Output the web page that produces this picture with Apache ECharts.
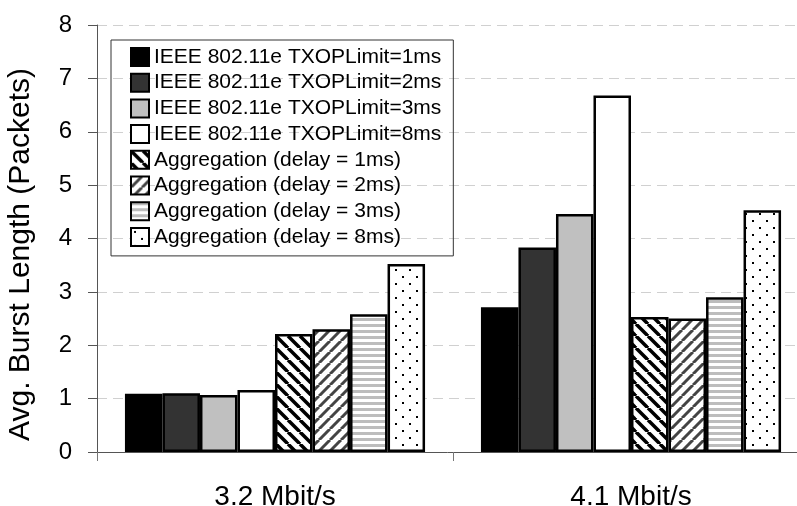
<!DOCTYPE html>
<html><head><meta charset="utf-8">
<script src="https://cdn.jsdelivr.net/npm/echarts@6/dist/echarts.min.js"></script>
<style>html,body{margin:0;padding:0;background:#fff}#c{width:797px;height:506px}</style>
</head><body><div id="c"></div>
<script>
const categories = ['3.2 Mbit/s', '4.1 Mbit/s'];
const seriesNames = [
  'IEEE 802.11e TXOPLimit=1ms',
  'IEEE 802.11e TXOPLimit=2ms',
  'IEEE 802.11e TXOPLimit=3ms',
  'IEEE 802.11e TXOPLimit=8ms',
  'Aggregation (delay = 1ms)',
  'Aggregation (delay = 2ms)',
  'Aggregation (delay = 3ms)',
  'Aggregation (delay = 8ms)'
];
const txop1 = [1.09, 2.71];
const txop2 = [1.10, 3.83];
const txop3 = [1.07, 4.46];
const txop8 = [1.16, 6.68];
const agg1 = [2.21, 2.53];
const agg2 = [2.30, 2.50];
const agg3 = [2.58, 2.90];
const agg8 = [3.52, 4.53];
const yTicks = [0, 1, 2, 3, 4, 5, 6, 7, 8];

function makeCanvas(w, h, draw) {
  const c = document.createElement('canvas');
  c.width = w; c.height = h;
  const ctx = c.getContext('2d');
  ctx.fillStyle = '#fff'; ctx.fillRect(0, 0, w, h);
  draw(ctx, w, h);
  return { image: c, repeat: 'repeat' };
}
function diag(dir, color, lw, s) {
  return makeCanvas(s, s, (ctx) => {
    ctx.strokeStyle = color; ctx.lineWidth = lw;
    for (let k = -1; k <= 1; k++) {
      ctx.beginPath();
      if (dir > 0) { ctx.moveTo(k * s, 0); ctx.lineTo(k * s + s, s); }
      else { ctx.moveTo(k * s + s, 0); ctx.lineTo(k * s, s); }
      ctx.stroke();
    }
  });
}
const patBack = diag(1, '#000', 3.5, 12);
const patFwd = diag(-1, '#444', 3, 11);
const patStripe = makeCanvas(6, 6, (ctx) => { ctx.fillStyle = '#bdbdbd'; ctx.fillRect(0, 0, 6, 3); });
const patDots = makeCanvas(14, 14, (ctx) => {
  ctx.fillStyle = '#000';
  ctx.fillRect(3, 3, 2, 2);
  ctx.fillRect(10, 10, 2, 2);
});

const fills = ['#000000', '#333333', '#c0c0c0', '#ffffff', patBack, patFwd, patStripe, patDots];
const values = [txop1, txop2, txop3, txop8, agg1, agg2, agg3, agg8];
const font = 'Arial, "Liberation Sans", sans-serif';

const chart = echarts.init(document.getElementById('c'), null, { renderer: 'canvas' });
chart.setOption({
  animation: false,
  backgroundColor: '#fff',
  grid: { left: 97, width: 712, top: 25, height: 427, containLabel: false, outerBoundsMode: 'none' },
  legend: {
    orient: 'vertical', left: 111, top: 40,
    padding: [6.5, 12, 8.5, 19],
    itemWidth: 18, itemHeight: 18, itemGap: 4.7,
    icon: 'rect',
    borderColor: '#333', borderWidth: 1,
    itemStyle: { borderColor: '#000', borderWidth: 2 },
    textStyle: { fontFamily: font, fontSize: 21, color: '#000' },
    data: seriesNames
  },
  xAxis: {
    type: 'category', data: categories,
    axisLine: { lineStyle: { color: '#555', width: 1 } },
    axisTick: { show: true, alignWithLabel: false, length: 9, lineStyle: { color: '#777' } },
    axisLabel: { fontFamily: font, fontSize: 28, color: '#000', margin: 31 }
  },
  yAxis: {
    type: 'value', min: 0, max: 8, interval: 1,
    name: 'Avg. Burst Length (Packets)', nameLocation: 'middle', nameGap: 61,
    nameTextStyle: { fontFamily: font, fontSize: 30, color: '#000', padding: [0, 32, 0, 0] },
    axisLine: { show: true, lineStyle: { color: '#555', width: 1 } },
    axisTick: { show: true, length: 9, lineStyle: { color: '#555' } },
    axisLabel: { fontFamily: font, fontSize: 24, color: '#000', margin: 25,
      formatter: (v) => yTicks.includes(v) ? String(v) : '' },
    splitLine: { show: true, lineStyle: { color: '#d0d0d0', type: [10, 6], width: 1 } }
  },
  series: seriesNames.map((n, i) => ({
    name: n, type: 'bar', data: values[i],
    barGap: '0%', barCategoryGap: '15.7%',
    itemStyle: { color: fills[i], borderColor: '#000', borderWidth: 2.5 }
  }))
});
</script></body></html>
